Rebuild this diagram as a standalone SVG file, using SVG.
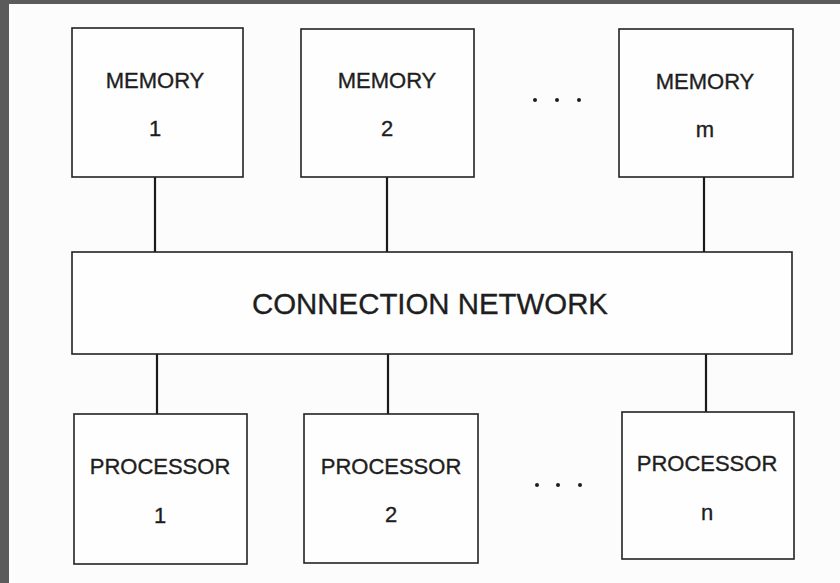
<svg xmlns="http://www.w3.org/2000/svg" width="840" height="583" viewBox="0 0 840 583">
<style>
.box{fill:#fefefe;stroke:#222;stroke-width:1.6}
.conn{stroke:#1a1a1a;stroke-width:2.2;fill:none}
.t{font-family:"Liberation Sans",Arial,sans-serif;font-size:22px;fill:#1e1e1e;stroke:#1e1e1e;stroke-width:0.35;text-anchor:middle}
.big{font-size:29.4px}
.dot{fill:#1e1e1e}
</style>
<rect x="0" y="0" width="840" height="583" fill="#5b5b5b"/>
<rect x="9" y="4" width="831" height="579" fill="#fcfcfc"/>
<g id="connectors">
<line class="conn" x1="155" y1="177" x2="155" y2="252"/>
<line class="conn" x1="387" y1="177" x2="387" y2="252"/>
<line class="conn" x1="704" y1="177" x2="704" y2="252"/>
<line class="conn" x1="157" y1="354" x2="157" y2="414"/>
<line class="conn" x1="388" y1="354" x2="388" y2="414"/>
<line class="conn" x1="706" y1="354" x2="706" y2="412"/>
</g>
<g id="memory1"><rect class="box" x="72" y="28" width="171" height="149"/><text class="t" x="155" y="88">MEMORY</text><text class="t" x="155" y="136">1</text></g>
<g id="memory2"><rect class="box" x="301" y="29" width="173" height="148"/><text class="t" x="387" y="88">MEMORY</text><text class="t" x="387" y="136">2</text></g>
<g id="memorym"><rect class="box" x="619" y="29" width="174" height="148"/><text class="t" x="705" y="89">MEMORY</text><text class="t" x="705" y="137">m</text></g>
<g id="dots-top"><circle class="dot" cx="535" cy="100" r="2"/><circle class="dot" cx="557" cy="100" r="2"/><circle class="dot" cx="579" cy="100" r="2"/></g>
<g id="network"><rect class="box" x="72" y="252" width="720" height="102"/><text class="t big" x="430" y="314">CONNECTION NETWORK</text></g>
<g id="processor1"><rect class="box" x="74" y="414" width="173" height="150"/><text class="t" x="160" y="474">PROCESSOR</text><text class="t" x="160" y="523">1</text></g>
<g id="processor2"><rect class="box" x="304" y="414" width="174" height="149"/><text class="t" x="391" y="474">PROCESSOR</text><text class="t" x="391" y="522">2</text></g>
<g id="processorn"><rect class="box" x="622" y="412" width="172" height="147"/><text class="t" x="707" y="471">PROCESSOR</text><text class="t" x="707" y="520">n</text></g>
<g id="dots-bottom"><circle class="dot" cx="537" cy="485" r="2"/><circle class="dot" cx="558" cy="485" r="2"/><circle class="dot" cx="580" cy="485" r="2"/></g>
</svg>
